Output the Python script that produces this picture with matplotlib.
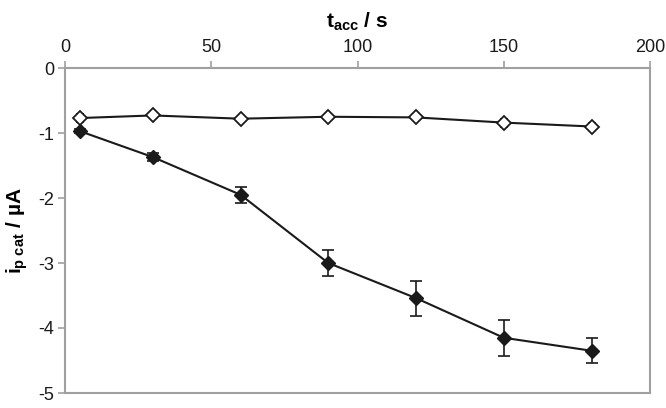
import matplotlib.pyplot as plt

plt.rcParams['font.family'] = ['Liberation Sans', 'DejaVu Sans']
plt.rcParams['mathtext.fontset'] = 'custom'
plt.rcParams['mathtext.rm'] = 'Liberation Sans'
plt.rcParams['mathtext.bf'] = 'Liberation Sans:bold'
plt.rcParams['mathtext.it'] = 'Liberation Sans:italic'

t_acc = [5, 30, 60, 90, 120, 150, 180]
ip_open = [-0.77, -0.73, -0.78, -0.75, -0.76, -0.84, -0.90]
err_open = [0.06, 0.04, 0.03, 0.03, 0.03, 0.06, 0.06]
ip_filled = [-0.97, -1.37, -1.95, -3.0, -3.54, -4.15, -4.35]
err_filled = [0.03, 0.06, 0.12, 0.2, 0.27, 0.28, 0.19]

grey = '#a0a0a0'

fig = plt.figure(figsize=(6.66, 4.08), dpi=100)
ax = fig.add_axes([65 / 666, 1 - 393 / 408, 585 / 666, 325 / 408])

ax.errorbar(t_acc, ip_filled, yerr=err_filled, color='#1a1a1a', marker='D',
            markersize=7, markerfacecolor='#1a1a1a', linewidth=1.5,
            capsize=4, elinewidth=1.2, capthick=1.2)
ax.errorbar(t_acc, ip_open, yerr=err_open, color='#1a1a1a', marker='D',
            markersize=7, markerfacecolor='white', markeredgewidth=1.3,
            linewidth=1.5, capsize=3, elinewidth=1.2, capthick=1.2)

ax.set_xlim(0, 200)
ax.set_ylim(-5, 0)
ax.set_xticks([0, 50, 100, 150, 200])
ax.set_yticks([0, -1, -2, -3, -4, -5])
ax.set_yticklabels(['0', '-1', '-2', '-3', '-4', '-5'])
ax.xaxis.tick_top()
ax.xaxis.set_label_position('top')
ax.tick_params(axis='both', direction='out', length=5, width=1.2,
               color=grey, labelsize=13, labelcolor='#1a1a1a', pad=3)
ax.tick_params(axis='x', pad=4)
for s in ax.spines.values():
    s.set_color(grey)
    s.set_linewidth(1.5)

ax.set_xlabel(r'$\mathbf{t_{acc}}$ / s', fontsize=15, fontweight='bold',
              labelpad=8)
ax.set_ylabel(r'$\mathbf{i_{p\ cat}}$ / µA', fontsize=15, fontweight='bold',
              labelpad=6)

fig.savefig('out.png', dpi=100)
plt.close(fig)
